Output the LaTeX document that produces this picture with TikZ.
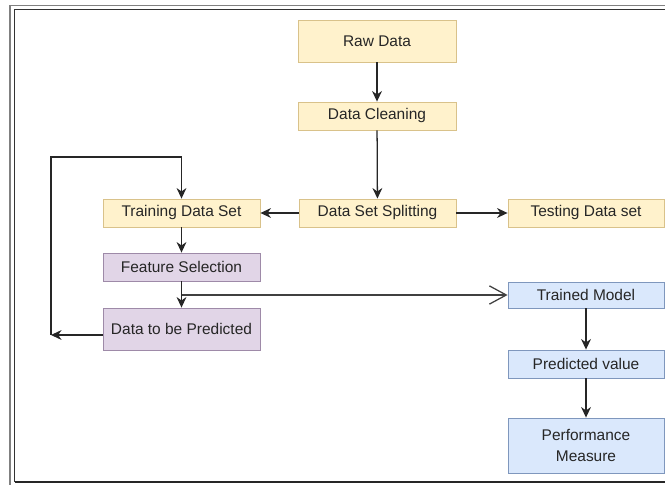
\documentclass[tikz,border=0pt]{standalone}
\usepackage{fontspec}
\setmainfont{Liberation Sans}
\usetikzlibrary{arrows.meta}
\newcommand{\px}{0.025cm}
\definecolor{yfill}{HTML}{FFF2CC}
\definecolor{ydraw}{HTML}{D9C28A}
\definecolor{pfill}{HTML}{E1D5E7}
\definecolor{pdraw}{HTML}{9E8AA8}
\definecolor{bfill}{HTML}{DAE8FC}
\definecolor{bdraw}{HTML}{7F97BD}
\begin{document}
\begin{tikzpicture}[x=\px,y=-\px,
  box/.style={draw,line width=0.6pt,inner sep=0pt,minimum width=157*\px,minimum height=28*\px,
    align=center,font=\fontsize{11}{13}\selectfont,text=black!85},
  ybox/.style={box,fill=yfill,draw=ydraw},
  pbox/.style={box,fill=pfill,draw=pdraw},
  bbox/.style={box,fill=bfill,draw=bdraw},
  arr/.style={-{Stealth[length=7.5pt,width=7pt]},line width=0.9pt,black!85},
  open/.style={-{Straight Barb[length=12pt,width=13pt]},line width=0.9pt,black!75}]
\useasboundingbox (0,0) rectangle (665,485);
% frame
\draw[gray,line width=1.3pt] (10,485) -- (10,5.5) -- (665,5.5);
\draw[black!80,line width=0.8pt] (14.5,482) -- (14.5,9.5) -- (665,9.5);
\draw[black!85,line width=1.2pt] (14.5,482) -- (665,482);

\node[ybox,minimum width=158*\px,minimum height=42*\px] (raw) at (377,41) {Raw Data};
\node[ybox,minimum width=158*\px] (clean) at (377,116) {Data Cleaning};
\node[ybox] (split) at (377.5,213) {Data Set Splitting};
\node[ybox] (train) at (181.5,213) {Training Data Set};
\node[ybox,minimum width=156*\px] (test) at (586,213) {Testing Data set};
\node[pbox] (feat) at (181.5,267) {Feature Selection};
\node[pbox,minimum height=42*\px] (pred) at (181.5,329) {Data to be Predicted};
\node[bbox,minimum width=156*\px,minimum height=26*\px] (trained) at (586,295) {Trained Model};
\node[bbox,minimum width=156*\px] (predval) at (586,364) {Predicted value};
\node[bbox,minimum width=156*\px,minimum height=55*\px] (perf) at (586,445.5) {Performance\\[2pt]Measure};

\coordinate (back) at (51,335);
\coordinate (up) at (51,157);
\coordinate (j) at (feat.south |- trained.west);

\draw[arr] (raw) -- (clean);
\draw[arr] (clean) -- (split);
\draw[arr] (split) -- (train);
\draw[arr] (split) -- (test);
\draw[arr] (train) -- (feat);
\draw[arr] (feat) -- (pred);
\draw[open] (j) -- (trained.west);
\draw[arr] (pred.west |- back) -- (back);
\draw[arr] (back) -- (up) -| (train.north);
\draw[arr] (trained) -- (predval);
\draw[arr] (predval) -- (perf);
\end{tikzpicture}
\end{document}
